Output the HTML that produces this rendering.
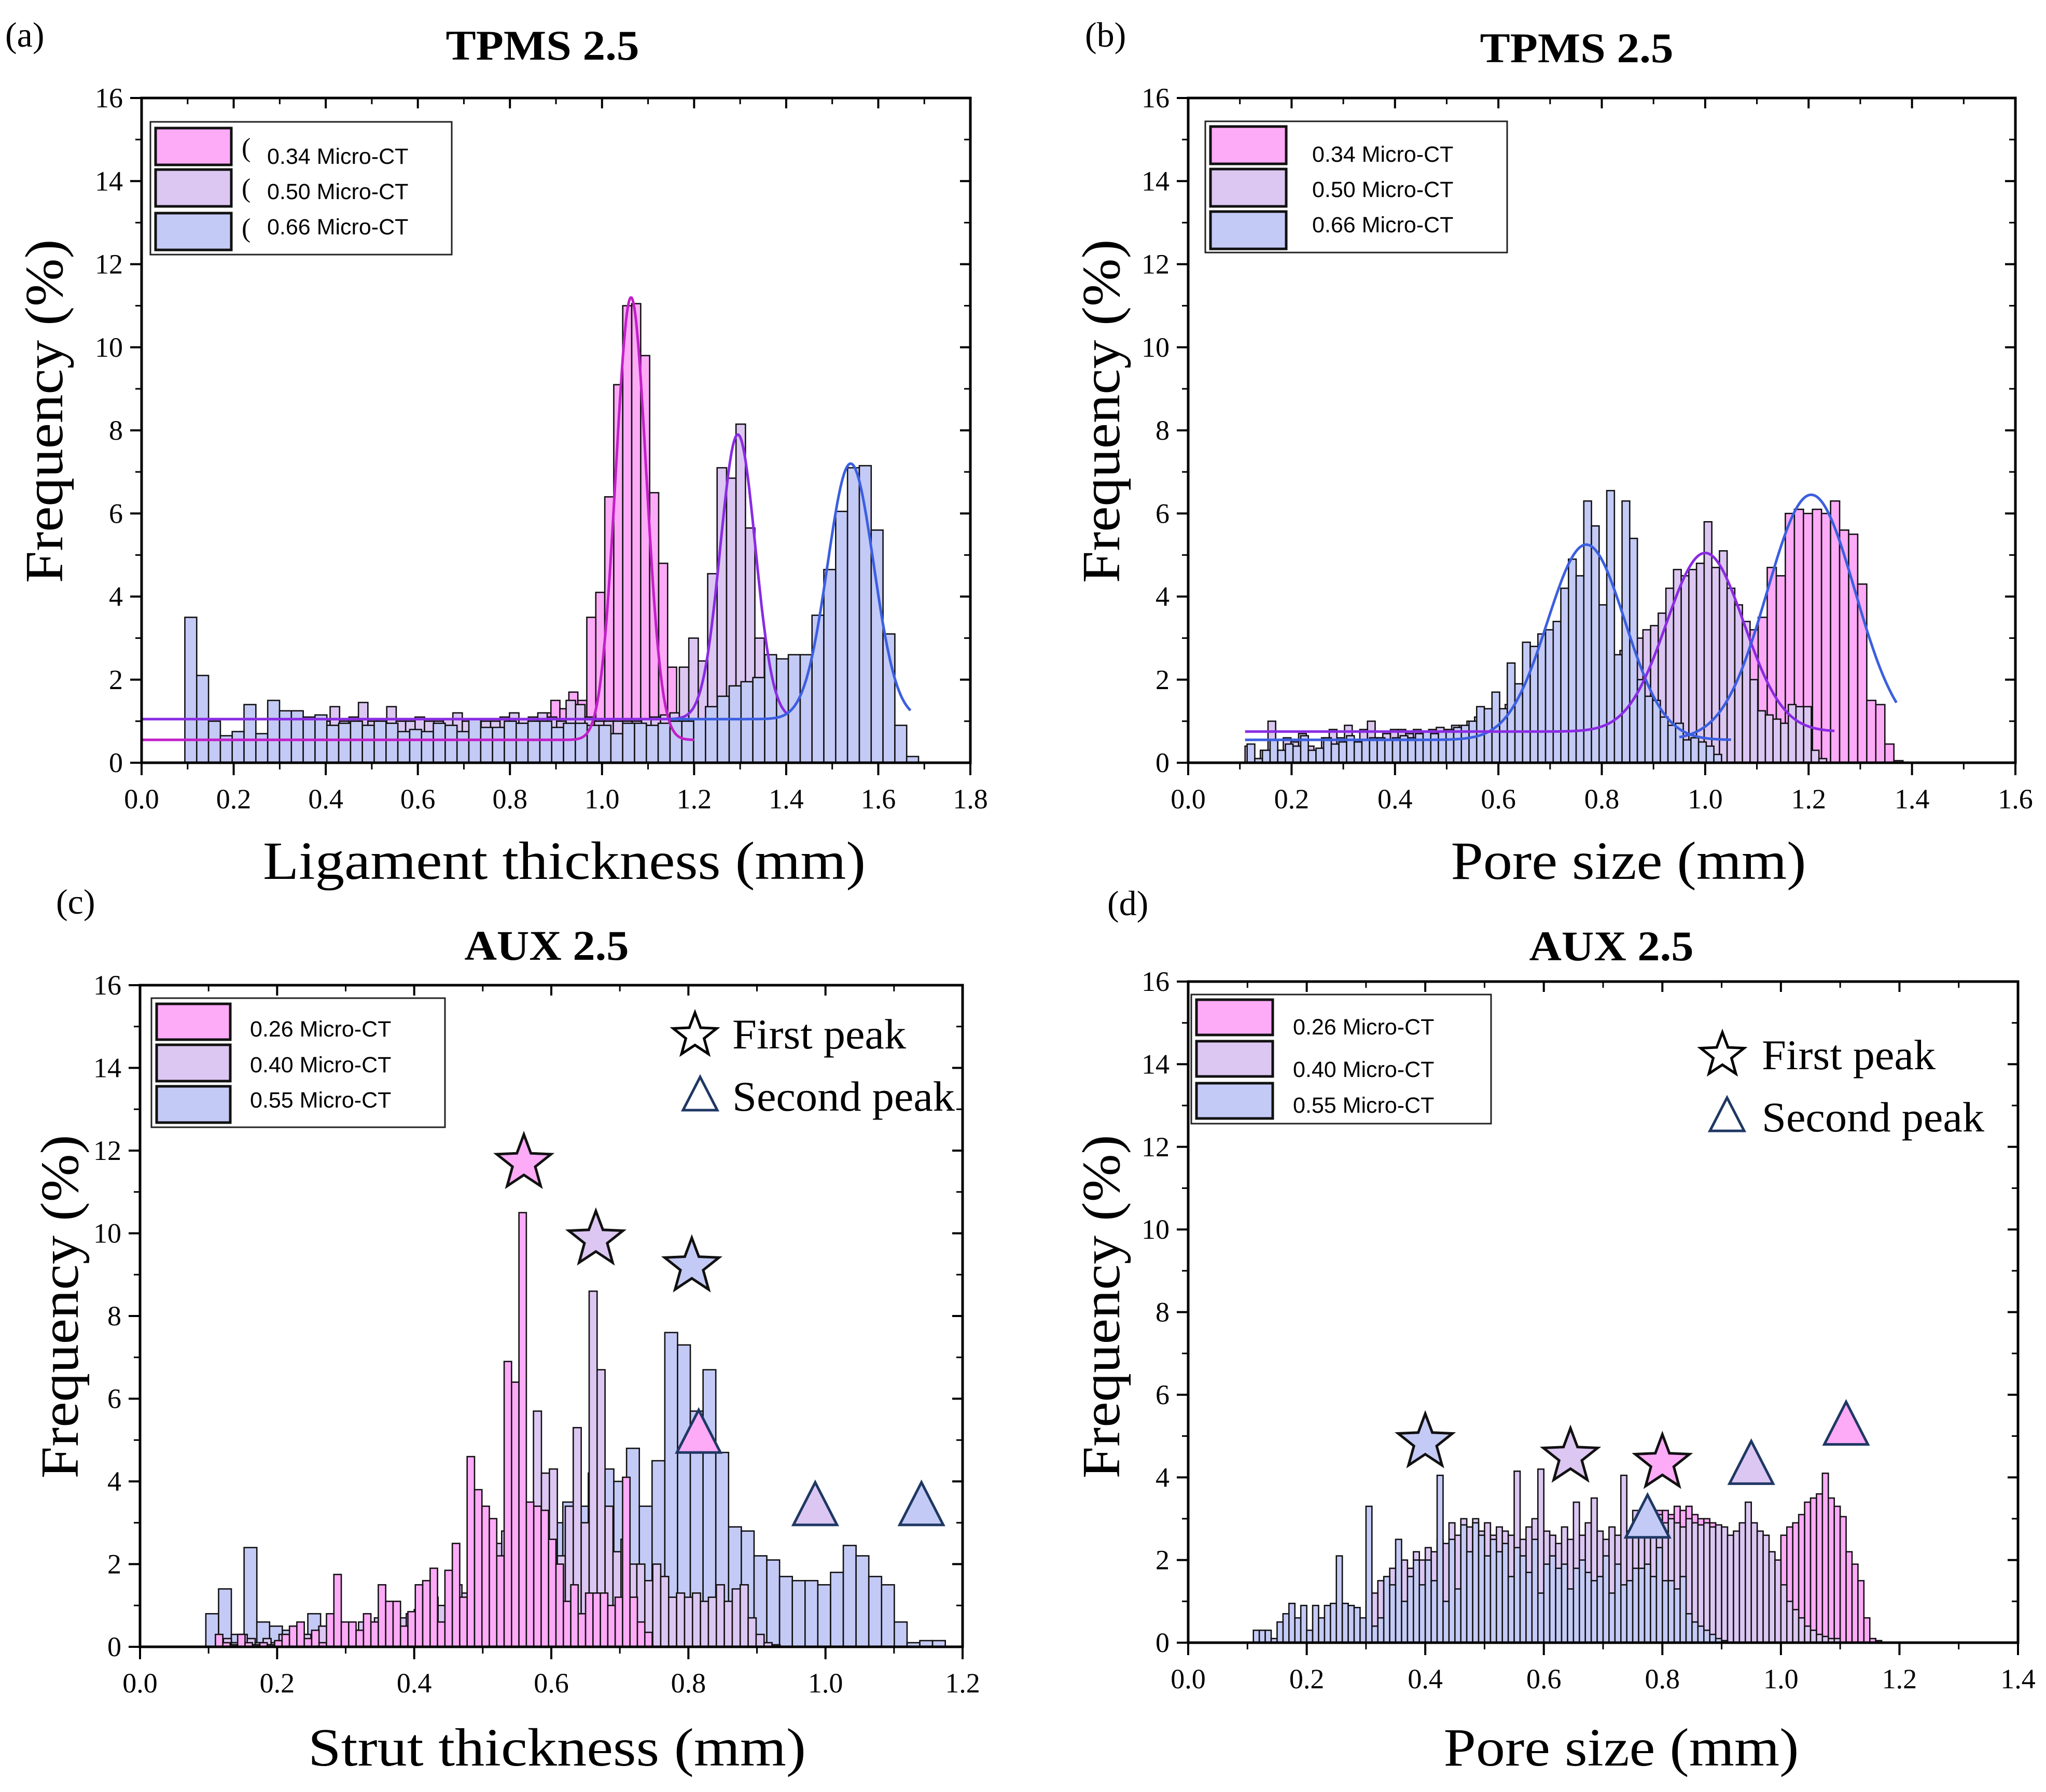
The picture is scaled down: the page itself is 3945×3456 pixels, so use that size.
<!DOCTYPE html>
<html><head><meta charset="utf-8"><style>
html,body{margin:0;padding:0;background:#fff;}
svg{display:block;}
text{font-family:"Liberation Serif",serif;fill:#000;}
.leg{font-family:"Liberation Sans",sans-serif;font-size:43px;}
</style></head><body>
<svg id="fig" width="3945" height="3456" viewBox="0 0 3945 3456" xmlns="http://www.w3.org/2000/svg">
<rect x="0" y="0" width="3945" height="3456" fill="#fff"/>
<text x="10" y="90" font-size="68">(a)</text>
<text x="2092" y="90" font-size="68">(b)</text>
<text x="108" y="1762" font-size="68">(c)</text>
<text x="2135" y="1765" font-size="68">(d)</text>
<text x="1046" y="115" font-size="82" font-weight="bold" text-anchor="middle" textLength="373" lengthAdjust="spacingAndGlyphs">TPMS 2.5</text>
<text x="3040" y="120" font-size="82" font-weight="bold" text-anchor="middle" textLength="373" lengthAdjust="spacingAndGlyphs">TPMS 2.5</text>
<text x="1054" y="1851" font-size="82" font-weight="bold" text-anchor="middle" textLength="317" lengthAdjust="spacingAndGlyphs">AUX 2.5</text>
<text x="3107" y="1852" font-size="82" font-weight="bold" text-anchor="middle" textLength="317" lengthAdjust="spacingAndGlyphs">AUX 2.5</text>
<text transform="translate(120,793) rotate(-90)" font-size="104" text-anchor="middle" textLength="663" lengthAdjust="spacingAndGlyphs">Frequency (%)</text>
<text transform="translate(2158,793) rotate(-90)" font-size="104" text-anchor="middle" textLength="663" lengthAdjust="spacingAndGlyphs">Frequency (%)</text>
<text transform="translate(150,2520) rotate(-90)" font-size="104" text-anchor="middle" textLength="663" lengthAdjust="spacingAndGlyphs">Frequency (%)</text>
<text transform="translate(2158,2520) rotate(-90)" font-size="104" text-anchor="middle" textLength="663" lengthAdjust="spacingAndGlyphs">Frequency (%)</text>
<text x="1088" y="1695" font-size="104" text-anchor="middle" textLength="1162" lengthAdjust="spacingAndGlyphs">Ligament thickness (mm)</text>
<text x="3140" y="1695" font-size="104" text-anchor="middle" textLength="685" lengthAdjust="spacingAndGlyphs">Pore size (mm)</text>
<text x="1074" y="3405" font-size="104" text-anchor="middle" textLength="960" lengthAdjust="spacingAndGlyphs">Strut thickness (mm)</text>
<text x="3126" y="3405" font-size="104" text-anchor="middle" textLength="685" lengthAdjust="spacingAndGlyphs">Pore size (mm)</text>
<g id="plots"></g>
<g>
<rect x="290" y="235" width="581" height="256" fill="#fff" stroke="#222" stroke-width="3"/>
<rect x="300" y="247" width="146" height="71" fill="#fdaaf7" stroke="#111" stroke-width="5"/>
<rect x="300" y="327" width="146" height="71" fill="#dcc6f2" stroke="#111" stroke-width="5"/>
<rect x="300" y="411" width="146" height="71" fill="#c4caf6" stroke="#111" stroke-width="5"/>
<text x="466" y="302" font-size="52">(</text><text x="466" y="380" font-size="52">(</text><text x="466" y="457" font-size="52">(</text>
<text class="leg" x="515" y="316">0.34  Micro-CT</text>
<text class="leg" x="515" y="384">0.50 Micro-CT</text>
<text class="leg" x="515" y="452">0.66 Micro-CT</text>
</g>
<g>
<rect x="2324" y="234" width="582" height="253" fill="#fff" stroke="#222" stroke-width="3"/>
<rect x="2334" y="244" width="146" height="72" fill="#fdaaf7" stroke="#111" stroke-width="5"/>
<rect x="2334" y="326" width="146" height="72" fill="#dcc6f2" stroke="#111" stroke-width="5"/>
<rect x="2334" y="408" width="146" height="72" fill="#c4caf6" stroke="#111" stroke-width="5"/>
<text class="leg" x="2530" y="312">0.34  Micro-CT</text>
<text class="leg" x="2530" y="380">0.50 Micro-CT</text>
<text class="leg" x="2530" y="448">0.66 Micro-CT</text>
</g>
<g>
<rect x="292" y="1925" width="566" height="249" fill="#fff" stroke="#222" stroke-width="3"/>
<rect x="302" y="1936" width="142" height="69" fill="#fdaaf7" stroke="#111" stroke-width="5"/>
<rect x="302" y="2015" width="142" height="70" fill="#dcc6f2" stroke="#111" stroke-width="5"/>
<rect x="302" y="2095" width="142" height="70" fill="#c4caf6" stroke="#111" stroke-width="5"/>
<text class="leg" x="482" y="1999">0.26  Micro-CT</text>
<text class="leg" x="482" y="2068">0.40 Micro-CT</text>
<text class="leg" x="482" y="2136">0.55 Micro-CT</text>
</g>
<g>
<rect x="2297" y="1918" width="578" height="249" fill="#fff" stroke="#222" stroke-width="3"/>
<rect x="2307" y="1928" width="147" height="68" fill="#fdaaf7" stroke="#111" stroke-width="5"/>
<rect x="2307" y="2008" width="147" height="68" fill="#dcc6f2" stroke="#111" stroke-width="5"/>
<rect x="2307" y="2089" width="147" height="68" fill="#c4caf6" stroke="#111" stroke-width="5"/>
<text class="leg" x="2493" y="1995">0.26  Micro-CT</text>
<text class="leg" x="2493" y="2077">0.40 Micro-CT</text>
<text class="leg" x="2493" y="2146">0.55 Micro-CT</text>
</g>
<g>
<polygon id="keyStarC" fill="#fff" stroke="#000" stroke-width="5"/>
<text x="1412" y="2022" font-size="82" textLength="335" lengthAdjust="spacingAndGlyphs">First peak</text>
<polygon points="1350,2077 1383,2141 1317,2141" fill="#fff" stroke="#1f3864" stroke-width="5"/>
<text x="1412" y="2142" font-size="82" textLength="429" lengthAdjust="spacingAndGlyphs">Second peak</text>
</g>
<g>
<polygon id="keyStarD" fill="#fff" stroke="#000" stroke-width="5"/>
<text x="3397" y="2062" font-size="82" textLength="335" lengthAdjust="spacingAndGlyphs">First peak</text>
<polygon points="3330,2117 3363,2181 3297,2181" fill="#fff" stroke="#1f3864" stroke-width="5"/>
<text x="3397" y="2182" font-size="82" textLength="429" lengthAdjust="spacingAndGlyphs">Second peak</text>
</g>
</svg>
<script>
const yTicks=[0,2,4,6,8,10,12,14,16];
const xTicksA=["0.0","0.2","0.4","0.6","0.8","1.0","1.2","1.4","1.6","1.8"];
const xTicksB=["0.0","0.2","0.4","0.6","0.8","1.0","1.2","1.4","1.6"];
const xTicksC=["0.0","0.2","0.4","0.6","0.8","1.0","1.2"];
const xTicksD=["0.0","0.2","0.4","0.6","0.8","1.0","1.2","1.4"];
const aPinkStart=0.850, aPinkW=0.0195;
const aPink=[1.1,1.2,1.5,1.3,1.7,1.5,3.5,4.1,6.4,9.1,11.0,11.05,9.8,6.5,4.8,2.3,0.6];
const aPurpleStart=0.389, aPurpleW=0.0205;
const aPurple=[1.0,1.35,1.0,1.1,1.45,1.0,1.05,1.35,1.0,1.0,1.1,1.0,1.0,1.05,1.2,1.0,1.05,1.0,1.0,1.1,1.2,1.05,1.1,1.2,1.1,1.0,1.5,1.4,1.1,1.0,1.0,1.0,1.0,1.0,1.05,1.1,1.15,1.2,2.3,3.0,2.45,4.55,7.1,6.85,8.15,5.65,3.0,1.0];
const aBlueStart=0.094, aBlueW=0.0257;
const aBlue=[3.5,2.1,1.0,0.65,0.75,1.4,0.7,1.5,1.25,1.25,1.1,1.15,0.9,0.95,1.0,0.9,1.0,0.95,0.75,0.8,0.75,0.95,0.9,0.75,1.05,0.85,0.85,1.0,0.95,1.0,1.0,0.85,0.95,0.95,0.9,0.9,0.7,0.95,0.95,0.9,0.95,1.0,1.0,1.05,1.35,1.6,1.85,1.95,2.05,2.6,2.5,2.6,2.6,3.55,4.65,6.05,7.1,7.15,5.6,3.1,0.9,0.15];
const aFitCenter=[1.063,1.295,1.54], aFitAmp=[10.65,6.85,6.15], aFitSigma=[0.033,0.038,0.05], aFitBase=[0.55,1.05,1.05], aFitFrom=[0,0,1.15], aFitTo=[1.2,1.4,1.67];
const bPinkStart=0.98, bPinkW=0.0175;
const bPink=[0.5,0.8,1.2,1.6,2.2,2.8,3.2,3.5,4.7,4.5,6.0,6.1,6.0,6.1,6.0,6.3,5.6,5.5,4.3,1.5,1.4,0.45,0.05];
const bPurpleStart=0.11, bPurpleW=0.0148;
const bPurple=[0.4,0.1,0.3,1.0,0.3,0.6,0.5,0.7,0.4,0.3,0.6,0.8,0.6,0.9,0.5,0.8,1.0,0.6,0.7,0.8,0.8,0.7,0.8,0.75,0.8,0.85,0.8,0.9,0.9,1.0,1.1,1.2,1.3,1.3,1.4,1.4,1.5,1.6,1.7,1.8,1.9,2.0,2.0,2.1,2.2,2.3,2.3,2.4,2.5,2.7,2.9,3.0,3.2,3.3,3.6,4.2,4.65,4.5,4.65,4.8,5.8,4.7,5.1,4.2,3.8,3.4,2.0,1.25,1.15,1.05,0.95,1.4,1.35,1.35,0.3,0.1];
const bBlueStart=0.114, bBlueW=0.0148;
const bBlue=[0.45,0.1,0.3,0.55,0.3,0.45,0.4,0.65,0.3,0.35,0.6,0.45,0.5,0.65,0.5,0.55,0.6,0.6,0.55,0.6,0.65,0.6,0.7,0.75,0.7,0.75,0.8,0.85,0.9,1.0,1.35,1.3,1.7,1.3,2.4,1.9,2.9,2.8,3.1,3.2,3.4,4.2,4.9,4.5,6.3,5.7,3.8,6.55,2.6,6.3,5.4,2.0,1.6,1.5,1.1,0.9,0.95,0.55,0.6,0.5,0.4,0.2];
const bFitCenter=[0.77,1.0,1.205], bFitAmp=[4.7,4.3,5.9], bFitSigma=[0.075,0.075,0.085], bFitBase=[0.55,0.75,0.55], bFitFrom=[0.11,0.11,0.95], bFitTo=[1.05,1.25,1.37];
const cPinkStart=0.110, cPinkW=0.0108;
const cPink=[0.3,0.1,0.05,0.3,0.1,0.05,0.1,0.05,0.15,0.3,0.5,0.6,0.2,0.4,0.1,0.8,1.75,0.6,0.6,0.4,0.8,0.6,1.5,1.1,1.1,0.5,0.85,1.5,1.6,1.9,0.6,1.85,2.5,1.2,4.6,3.8,3.4,3.1,2.2,6.9,6.4,10.5,3.5,3.4,3.3,2.6,2.0,1.1,1.5,0.8,1.3,1.3,1.3,1.0,1.2,4.1,1.2,0.6,0.35];
const cPurpleStart=0.11, cPurpleW=0.0116;
const cPurple=[0.1,0.2,0.1,0.3,0.2,0.1,0.2,0.1,0.3,0.2,0.5,0.3,0.2,0.5,0.4,0.6,0.5,0.4,0.6,0.5,0.7,0.5,0.9,0.7,0.8,0.9,1.0,1.2,1.0,1.4,1.5,1.3,1.8,2.0,2.2,2.5,2.8,3.0,3.4,3.2,5.7,4.2,4.3,2.2,3.4,5.3,3.0,8.6,6.7,3.4,2.3,2.6,2.0,2.0,1.6,2.0,1.7,1.2,1.3,1.2,1.3,1.1,1.2,1.5,1.1,1.4,1.5,0.7,0.3,0.1,0.05];
const cBlueStart=0.096, cBlueW=0.0186;
const cBlue=[0.8,1.4,0.3,2.4,0.6,0.5,0.4,0.3,0.8,0.5,0.4,0.4,0.5,0.4,0.5,0.6,0.5,0.8,0.8,1.0,1.2,1.4,1.5,1.8,2.0,2.2,2.6,3.0,3.5,3.4,4.2,4.3,4.0,4.8,3.4,4.5,7.6,7.3,5.7,6.7,4.7,2.9,2.8,2.2,2.1,1.7,1.6,1.6,1.5,1.8,2.45,2.2,1.7,1.5,0.6,0.1,0.15,0.15];
const cMarkX=[0.56,0.665,0.805,0.815,0.985,1.14], cMarkY=[11.7,9.85,9.2,5.1,3.35,3.35], cMarkType=["star","star","star","tri","tri","tri"], cMarkSeries=[0,1,2,0,1,2];
const dPinkStart=0.60, dPinkW=0.01;
const dPink=[0.8,1.0,1.2,1.1,1.3,1.5,1.4,1.6,1.5,1.7,1.6,1.8,1.7,2.0,2.2,2.4,2.6,2.9,3.0,3.2,3.2,3.1,3.3,3.2,3.3,3.1,3.0,3.0,2.9,2.7,2.6,2.5,2.4,2.3,2.2,2.0,1.9,2.0,1.9,1.9,2.6,2.8,2.9,3.1,3.4,3.5,3.6,4.1,3.5,3.3,3.05,2.2,1.9,1.5,0.6,0.1,0.05];
const dPurpleStart=0.30, dPurpleW=0.01;
const dPurple=[1.0,1.2,1.5,1.3,1.8,1.6,2.0,1.8,2.2,2.0,2.3,2.2,2.5,2.4,2.9,2.6,3.0,2.8,3.0,2.7,2.9,2.6,2.8,2.7,2.6,4.15,2.5,2.8,3.0,4.2,2.7,2.6,2.4,2.8,2.5,3.4,2.6,2.9,3.5,2.7,2.5,2.8,2.6,4.05,2.7,3.2,2.9,3.0,2.8,3.1,2.9,3.0,2.9,2.8,3.0,2.9,2.85,2.9,2.8,2.85,2.8,2.6,2.7,2.9,3.4,2.9,2.7,2.6,2.2,2.0,1.4,1.0,0.8,0.6,0.4,0.3,0.2,0.15,0.1,0.1];
const dBlueStart=0.11, dBlueW=0.01;
const dBlue=[0.3,0.3,0.3,0.1,0.5,0.7,0.95,0.6,0.9,0.3,0.9,0.6,0.9,0.95,2.1,0.95,0.9,0.85,0.6,3.3,0.4,0.6,1.6,1.4,2.5,1.0,1.6,2.0,1.4,2.0,1.5,4.05,1.0,2.5,1.3,2.85,2.2,2.9,2.6,2.1,2.5,2.2,2.4,1.6,2.3,2.1,1.7,2.5,1.2,1.9,2.1,1.8,1.9,1.3,1.8,2.0,1.7,1.5,1.6,2.1,1.2,1.9,1.4,1.5,1.8,1.8,1.9,1.6,2.3,1.5,1.5,1.3,1.6,0.7,0.5,0.4,0.3,0.2,0.1,0.05];
const dMarkX=[0.4,0.645,0.80,0.775,0.95,1.11], dMarkY=[4.85,4.5,4.35,2.95,4.25,5.2], dMarkType=["star","star","star","tri","tri","tri"], dMarkSeries=[2,1,0,2,1,0];

const NS="http://www.w3.org/2000/svg";
const FILLS=["#fdaaf7","#dcc6f2","#c4caf6"];
const plots=document.getElementById('plots');
function mk(tag,attrs,parent){const e=document.createElementNS(NS,tag);for(const k in attrs)e.setAttribute(k,attrs[k]);(parent||plots).appendChild(e);return e;}
function starPts(cx,cy,R){let p=[];for(let i=0;i<10;i++){const r=i%2?R*0.42:R;const a=-Math.PI/2+i*Math.PI/5;p.push((cx+r*Math.cos(a)).toFixed(1)+','+(cy+r*Math.sin(a)).toFixed(1));}return p.join(' ');}
document.getElementById('keyStarC').setAttribute('points',starPts(1340,1997,44));
document.getElementById('keyStarD').setAttribute('points',starPts(3321,2035,44));

function panel(P){
  const g=mk('g',{});
  
  
  const sx=v=>P.L+v/P.xmax*(P.R-P.L);
  const sy=v=>P.B-v/16*(P.B-P.T);
  P.series.forEach(s=>{
    const sg=mk('g',{},g);
    
    
    s.vals.forEach((v,i)=>{
      const x0=sx(s.start+i*s.w), x1=sx(s.start+(i+1)*s.w);
      const r=mk('rect',{x:x0,y:sy(v),width:x1-x0,height:P.B-sy(v),fill:FILLS[s.c],stroke:'#111','stroke-width':2.6},sg);
      
      
    });
  });
  if(P.fit){const f=P.fit;for(let k=0;k<f.c.length;k++){
    let d='';for(let x=f.from[k];x<=f.to[k]+1e-9;x+=0.002){const y=f.b[k]+f.a[k]*Math.exp(-Math.pow(x-f.c[k],2)/(2*f.s[k]*f.s[k]));d+=(d?'L':'M')+sx(x).toFixed(1)+','+sy(y).toFixed(1);}
    const pth=mk('path',{d:d,fill:'none',stroke:f.col[k],'stroke-width':5},g);
    
    
  }}
  if(P.mark){const m=P.mark;for(let k=0;k<m.x.length;k++){
    const cx=sx(m.x[k]),cy=sy(m.y[k]);let el;
    if(m.t[k]==='star') el=mk('polygon',{points:starPts(cx,cy,55),fill:FILLS[m.s[k]],stroke:'#111','stroke-width':5},g);
    else el=mk('polygon',{points:`${cx},${cy-50} ${cx+42},${cy+32} ${cx-42},${cy+32}`,fill:FILLS[m.s[k]],stroke:'#1f3864','stroke-width':5},g);
    
    
  }}
  const fr=mk('rect',{x:P.L,y:P.T,width:P.R-P.L,height:P.B-P.T,fill:'none',stroke:'#000','stroke-width':5},g);
  
  
  yTicks.forEach(v=>{
    const y=sy(v);
    mk('line',{x1:P.L-22,x2:P.L,y1:y,y2:y,stroke:'#000','stroke-width':4},g);
    mk('line',{x1:P.R-20,x2:P.R,y1:y,y2:y,stroke:'#000','stroke-width':4},g);
    if(v<16){const ym=sy(v+1);mk('line',{x1:P.L-12,x2:P.L,y1:ym,y2:ym,stroke:'#000','stroke-width':3},g);mk('line',{x1:P.R-12,x2:P.R,y1:ym,y2:ym,stroke:'#000','stroke-width':3},g);}
    const t=mk('text',{x:P.L-36,y:y+18,'font-size':54,'text-anchor':'end'},g);
    t.textContent=String(v);
    
    
  });
  P.xt.forEach((lab,i)=>{
    const v=i*0.2, x=sx(v);
    mk('line',{x1:x,x2:x,y1:P.B,y2:P.B+24,stroke:'#000','stroke-width':4},g);
    mk('line',{x1:x,x2:x,y1:P.T,y2:P.T+20,stroke:'#000','stroke-width':4},g);
    if(i<P.xt.length-1){const xm=sx(v+0.1);mk('line',{x1:xm,x2:xm,y1:P.B,y2:P.B+13,stroke:'#000','stroke-width':3},g);mk('line',{x1:xm,x2:xm,y1:P.T,y2:P.T+12,stroke:'#000','stroke-width':3},g);}
    const t=mk('text',{x:x,y:P.B+88,'font-size':54,'text-anchor':'middle'},g);
    t.textContent=lab;
    
    
  });
}
panel({id:'a',L:273,R:1871,T:189,B:1471,xmax:1.8,xt:xTicksA,
  series:[{name:'0.34',start:aPinkStart,w:aPinkW,vals:aPink,c:0},{name:'0.50',start:aPurpleStart,w:aPurpleW,vals:aPurple,c:1},{name:'0.66',start:aBlueStart,w:aBlueW,vals:aBlue,c:2}],
  fit:{c:aFitCenter,a:aFitAmp,s:aFitSigma,b:aFitBase,from:aFitFrom,to:aFitTo,col:['#c21fc8','#8a2be2','#3b5fe0']}});
panel({id:'b',L:2291,R:3886,T:189,B:1471,xmax:1.6,xt:xTicksB,
  series:[{name:'0.34',start:bPinkStart,w:bPinkW,vals:bPink,c:0},{name:'0.50',start:bPurpleStart,w:bPurpleW,vals:bPurple,c:1},{name:'0.66',start:bBlueStart,w:bBlueW,vals:bBlue,c:2}],
  fit:{c:bFitCenter,a:bFitAmp,s:bFitSigma,b:bFitBase,from:bFitFrom,to:bFitTo,col:['#3b5fe0','#8a2be2','#3b5fe0']}});
panel({id:'c',L:270,R:1856,T:1900,B:3176,xmax:1.2,xt:xTicksC,
  series:[{name:'0.55',start:cBlueStart,w:cBlueW,vals:cBlue,c:2},{name:'0.40',start:cPurpleStart,w:cPurpleW,vals:cPurple,c:1},{name:'0.26',start:cPinkStart,w:cPinkW,vals:cPink,c:0}],
  mark:{x:cMarkX,y:cMarkY,t:cMarkType,s:cMarkSeries}});
panel({id:'d',L:2291,R:3891,T:1893,B:3168,xmax:1.4,xt:xTicksD,
  series:[{name:'0.26',start:dPinkStart,w:dPinkW,vals:dPink,c:0},{name:'0.40',start:dPurpleStart,w:dPurpleW,vals:dPurple,c:1},{name:'0.55',start:dBlueStart,w:dBlueW,vals:dBlue,c:2}],
  mark:{x:dMarkX,y:dMarkY,t:dMarkType,s:dMarkSeries}});
</script>
</body></html>
